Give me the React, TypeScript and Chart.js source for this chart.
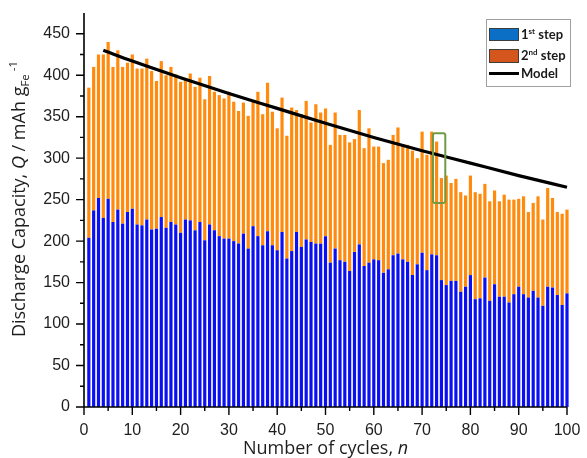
import React, { useEffect, useRef } from 'react';
import { Chart, registerables } from 'chart.js';

Chart.register(...registerables);

// ---------- data ----------
const cycles = Array.from({ length: 100 }, (_, i) => i + 1);

const firstStep = [
  204, 237, 252, 228, 251, 223, 238, 221, 235, 239,
  220, 219, 226, 214, 215, 229, 216, 223, 220, 210,
  226, 225, 213, 223, 201, 220, 213, 206, 203, 203,
  200, 197, 209, 191, 218, 206, 195, 212, 195, 189,
  211, 179, 188, 211, 193, 202, 199, 197, 197, 206,
  174, 191, 177, 175, 164, 187, 196, 170, 174, 178,
  177, 162, 166, 183, 185, 178, 175, 159, 172, 186,
  165, 184, 183, 153, 147, 152, 152, 139, 145, 159,
  130, 131, 156, 128, 148, 133, 133, 126, 136, 145,
  136, 132, 140, 132, 122, 145, 144, 135, 123, 137,
];

const secondStep = [
  181, 173, 173, 197, 189, 187, 192, 189, 180, 186,
  188, 189, 194, 191, 178, 188, 184, 187, 181, 182,
  169, 177, 173, 174, 170, 179, 167, 170, 169, 177,
  168, 160, 158, 160, 151, 174, 158, 179, 161, 147,
  162, 148, 173, 147, 160, 167, 144, 168, 158, 154,
  142, 164, 151, 153, 155, 136, 162, 142, 162, 136,
  137, 132, 132, 145, 152, 139, 141, 150, 128, 146,
  139, 148, 137, 123, 132, 118, 123, 120, 110, 120,
  129, 126, 113, 120, 113, 115, 123, 124, 114, 106,
  118, 103, 106, 122, 104, 119, 108, 100, 110, 101,
];

const modelCycles = [4, 10, 20, 30, 40, 50, 60, 70, 80, 90, 100];
const modelValues = [430, 417, 397, 378, 360, 342, 325, 309, 294, 279, 265];

const highlightCycles = [72.25, 74.8];
const highlightValues = [246, 330];

const yMajorTicks = [0, 50, 100, 150, 200, 250, 300, 350, 400, 450];
const yMinorTicks = [25, 75, 125, 175, 225, 275, 325, 375, 425];
const xMajorTicks = [0, 10, 20, 30, 40, 50, 60, 70, 80, 90, 100];
const xMinorTicks = [5, 15, 25, 35, 45, 55, 65, 75, 85, 95];

// ---------- styles ----------
const BAR_BLUE = '#0a10f2';
const BAR_ORANGE = '#ff8a0c';
const LEG_BLUE = '#0b6fc6';
const LEG_ORANGE = '#d4561c';
const TEXT = '#1e1e1e';
const TITLE_FONT = '"Open Sans", "DejaVu Sans", sans-serif';
const TICK_FONT = '"Liberation Sans", Arial, sans-serif';
const LEGEND_FONT = 'Lato, "Open Sans", sans-serif';

type Seg = { text: string; font: string; dy?: number };

function drawRich(ctx: CanvasRenderingContext2D, segs: Seg[], cx: number, baseline: number) {
  let total = 0;
  for (const s of segs) {
    ctx.font = s.font;
    total += ctx.measureText(s.text).width;
  }
  let x = cx - total / 2;
  ctx.textAlign = 'left';
  ctx.textBaseline = 'alphabetic';
  for (const s of segs) {
    ctx.font = s.font;
    ctx.fillText(s.text, x, baseline + (s.dy || 0));
    x += ctx.measureText(s.text).width;
  }
}

const decorPlugin = {
  id: 'decor',
  afterDatasetsDraw(chart: any) {
    const { ctx, scales } = chart;
    const xs = scales.x;
    const ys = scales.y;
    const l = xs.getPixelForValue(highlightCycles[0]);
    const r = xs.getPixelForValue(highlightCycles[1]);
    const t = ys.getPixelForValue(highlightValues[1]);
    const b = ys.getPixelForValue(highlightValues[0]);
    ctx.save();
    ctx.strokeStyle = '#6f9a45';
    ctx.lineWidth = 2;
    ctx.beginPath();
    if ((ctx as any).roundRect) (ctx as any).roundRect(l, t, r - l, b - t, 2);
    else ctx.rect(l, t, r - l, b - t);
    ctx.stroke();
    ctx.restore();
  },
  afterDraw(chart: any) {
    const { ctx, scales, chartArea } = chart;
    const xs = scales.x;
    const ys = scales.y;
    const left = chartArea.left;
    const bottom = ys.getPixelForValue(0);
    ctx.save();
    ctx.strokeStyle = '#000';
    ctx.lineWidth = 1.6;
    ctx.beginPath();
    ctx.moveTo(left, chartArea.top);
    ctx.lineTo(left, bottom);
    ctx.moveTo(left, bottom);
    ctx.lineTo(xs.getPixelForValue(100), bottom);
    ctx.stroke();
    ctx.lineWidth = 1.4;
    ctx.beginPath();
    for (const v of yMajorTicks) {
      const p = ys.getPixelForValue(v);
      ctx.moveTo(left - 8, p);
      ctx.lineTo(left, p);
    }
    for (const v of yMinorTicks) {
      const p = ys.getPixelForValue(v);
      ctx.moveTo(left - 4, p);
      ctx.lineTo(left, p);
    }
    for (const v of xMajorTicks) {
      const p = xs.getPixelForValue(v);
      ctx.moveTo(p, bottom);
      ctx.lineTo(p, bottom + 8);
    }
    for (const v of xMinorTicks) {
      const p = xs.getPixelForValue(v);
      ctx.moveTo(p, bottom);
      ctx.lineTo(p, bottom + 4);
    }
    ctx.stroke();

    ctx.fillStyle = TEXT;
    const fs = 18;
    const norm = `${fs}px ${TITLE_FONT}`;
    const ital = `italic ${fs}px ${TITLE_FONT}`;
    const small = `${fs * 0.64}px ${TITLE_FONT}`;
    drawRich(ctx, [
      { text: 'Number of cycles, ', font: norm },
      { text: 'n', font: ital },
    ], (left + xs.getPixelForValue(100)) / 2, 454);

    ctx.save();
    ctx.translate(25, 199);
    ctx.rotate(-Math.PI / 2);
    drawRich(ctx, [
      { text: 'Discharge Capacity, ', font: norm },
      { text: 'Q', font: ital },
      { text: ' / mAh g', font: norm },
      { text: 'Fe', font: small, dy: 4 },
      { text: ' -1', font: small, dy: -8 },
    ], 0, 0);
    ctx.restore();

    const lx = 486, ly = 19, lw = 84, lh = 67;
    ctx.fillStyle = '#fff';
    ctx.fillRect(lx, ly, lw, lh);
    ctx.strokeStyle = '#a0a0a0';
    ctx.lineWidth = 1;
    ctx.strokeRect(lx + 0.5, ly + 0.5, lw, lh);

    ctx.fillStyle = LEG_BLUE;
    ctx.fillRect(489, 28, 29, 12);
    ctx.strokeStyle = '#3c3c3c';
    ctx.strokeRect(489.5, 28.5, 29, 12);
    ctx.fillStyle = LEG_ORANGE;
    ctx.fillRect(489, 49, 29, 13);
    ctx.strokeRect(489.5, 49.5, 29, 13);
    ctx.strokeStyle = '#000';
    ctx.lineWidth = 3;
    ctx.beginPath();
    ctx.moveTo(489, 73.5);
    ctx.lineTo(519, 73.5);
    ctx.stroke();

    ctx.fillStyle = '#1a1a1a';
    const lb = `bold 13px ${LEGEND_FONT}`;
    const ls = `bold 8px ${LEGEND_FONT}`;
    const drawLeft = (segs: Seg[], x: number, y: number) => {
      ctx.textAlign = 'left';
      ctx.textBaseline = 'alphabetic';
      let cx = x;
      for (const s of segs) {
        ctx.font = s.font;
        ctx.fillText(s.text, cx, y + (s.dy || 0));
        cx += ctx.measureText(s.text).width;
      }
    };
    drawLeft([{ text: '1', font: lb }, { text: 'st', font: ls, dy: -5 }, { text: ' step', font: lb }], 521, 39);
    drawLeft([{ text: '2', font: lb }, { text: 'nd', font: ls, dy: -5 }, { text: ' step', font: lb }], 521, 60);
    drawLeft([{ text: 'Model', font: lb }], 521, 78);
    ctx.restore();
  },
};

export default function App() {
  const ref = useRef<HTMLCanvasElement>(null);
  useEffect(() => {
    document.body.style.margin = '0';
    const canvas = ref.current!;
    const chart = new Chart(canvas, {
      type: 'bar',
      data: {
        datasets: [
          {
            type: 'bar',
            label: '1st step',
            data: cycles.map((c, i) => ({ x: c, y: firstStep[i] })),
            backgroundColor: BAR_BLUE,
            borderWidth: 0,
            stack: 'cap',
            barPercentage: 0.66,
            categoryPercentage: 1,
            order: 2,
            clip: 8,
          } as any,
          {
            type: 'bar',
            label: '2nd step',
            data: cycles.map((c, i) => ({ x: c, y: secondStep[i] })),
            backgroundColor: BAR_ORANGE,
            borderWidth: 0,
            stack: 'cap',
            barPercentage: 0.66,
            categoryPercentage: 1,
            order: 2,
            clip: 8,
          } as any,
          {
            type: 'line',
            label: 'Model',
            data: modelCycles.map((c, i) => ({ x: c, y: modelValues[i] })),
            borderColor: '#000',
            borderWidth: 3.2,
            pointRadius: 0,
            fill: false,
            cubicInterpolationMode: 'monotone',
            stack: 'model',
            order: 0,
            clip: 8,
          } as any,
        ],
      },
      options: {
        responsive: false,
        animation: false,
        layout: { padding: { top: 13, right: 20, left: 0, bottom: 0 } },
        plugins: { legend: { display: false }, tooltip: { enabled: false } },
        scales: {
          x: {
            type: 'linear',
            min: 0,
            max: 100,
            stacked: true,
            offset: false,
            grid: { display: false, drawTicks: false, tickLength: 0 },
            border: { display: false },
            ticks: {
              stepSize: 10,
              autoSkip: false,
              maxRotation: 0,
              color: TEXT,
              padding: 14,
              font: { family: TICK_FONT, size: 16 },
            },
            afterFit: (s: any) => {
              s.height = 51;
              s.paddingLeft = 0;
              s.paddingRight = 0;
            },
          },
          y: {
            min: 0,
            max: 475,
            stacked: true,
            grid: { display: false, drawTicks: false, tickLength: 0 },
            border: { display: false },
            ticks: {
              stepSize: 50,
              includeBounds: false,
              color: TEXT,
              padding: 14,
              font: { family: TICK_FONT, size: 16 },
            },
            afterFit: (s: any) => {
              s.width = 84;
              s.paddingTop = 0;
              s.paddingBottom = 0;
            },
          },
        },
      } as any,
      plugins: [decorPlugin],
    });
    return () => chart.destroy();
  }, []);
  return (
    <div style={{ position: 'fixed', left: 0, top: 0, width: 587, height: 458 }}>
      <canvas ref={ref} width={587} height={458} style={{ width: 587, height: 458, display: 'block' }} />
    </div>
  );
}
